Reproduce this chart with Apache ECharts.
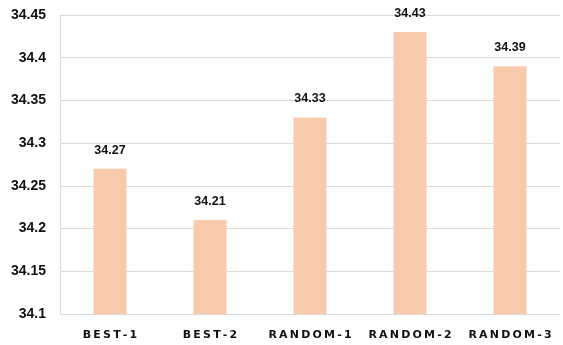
<!DOCTYPE html>
<html>
<head>
<meta charset="utf-8">
<script src="https://cdn.jsdelivr.net/npm/echarts@6/dist/echarts.min.js"></script>
<style>
  html, body { margin: 0; padding: 0; background: #fff; }
  #chart { width: 563px; height: 345px; }
</style>
</head>
<body>
<div id="chart"></div>
<script>
// Run names on the x axis
const categories = ['BEST-1', 'BEST-2', 'RANDOM-1', 'RANDOM-2', 'RANDOM-3'];
// Score per run
const scores = [34.27, 34.21, 34.33, 34.43, 34.39];
// Value axis range
const yMin = 34.1;
const yMax = 34.45;
const yStep = 0.05;

// Spread the letters of a label apart
function spaced(s) {
  return s.split('').join('\u2009');
}

const chart = echarts.init(document.getElementById('chart'));
chart.setOption({
  animation: false,
  grid: { left: 60, right: 3, top: 15, bottom: 31 },
  xAxis: {
    type: 'category',
    data: categories,
    axisLine: { show: true, lineStyle: { color: '#D9D9D9', width: 1 } },
    axisTick: { show: false },
    axisLabel: {
      interval: 0,
      color: '#111',
      fontFamily: 'DejaVu Sans',
      fontWeight: 'bold',
      fontSize: 11,
      margin: 16,
      formatter: v => spaced(v)
    }
  },
  yAxis: {
    type: 'value',
    min: yMin,
    max: yMax,
    interval: yStep,
    axisLine: { show: true, lineStyle: { color: '#D9D9D9', width: 1 } },
    axisTick: { show: false },
    splitLine: { lineStyle: { color: '#D9D9D9', width: 1 } },
    axisLabel: {
      color: '#111',
      fontFamily: 'Liberation Sans',
      fontWeight: 'bold',
      fontSize: 14,
      margin: 14,
      formatter: v => String(parseFloat(v.toFixed(2)))
    }
  },
  series: [{
    type: 'bar',
    data: scores,
    barWidth: 33,
    itemStyle: { color: '#F8CBAD' },
    label: {
      show: true,
      position: 'top',
      distance: 12,
      color: '#111',
      fontFamily: 'Liberation Sans',
      fontWeight: 'bold',
      fontSize: 12.5,
      formatter: p => p.value.toFixed(2)
    }
  }]
});
</script>
</body>
</html>
